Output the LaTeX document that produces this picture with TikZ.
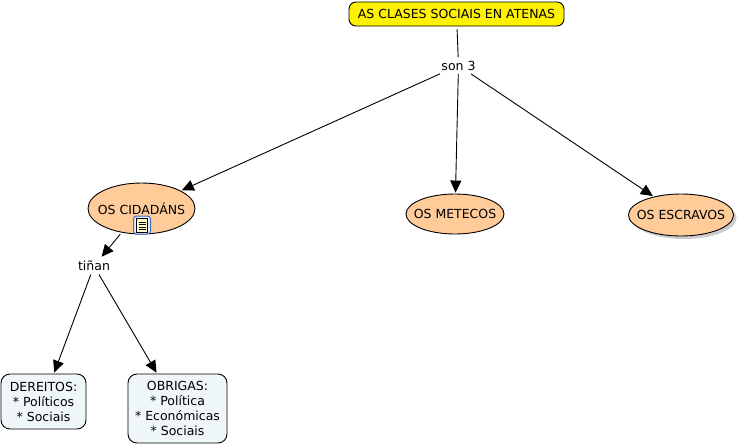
\documentclass[tikz,border=0pt]{standalone}
\usepackage{fontspec}
\setmainfont{DejaVu Sans}
\usetikzlibrary{arrows.meta,shapes.geometric,shadows}
\definecolor{peach}{RGB}{255,204,153}
\definecolor{paleblue}{RGB}{240,247,250}
\definecolor{iconblue}{RGB}{60,110,190}
\begin{document}
\begin{tikzpicture}[x=1pt,y=-1pt,line width=0.9pt,font=\fontsize{12.5}{15}\selectfont]
        \tikzstyle{title}=[rectangle,rounded corners=7pt,draw=black,fill=yellow,minimum width=215pt,minimum height=24pt,inner sep=0pt]
        \tikzstyle{class}=[ellipse,draw=black,fill=peach,inner ysep=0pt,inner xsep=-9pt]
        \tikzstyle{shadowed}=[drop shadow={shadow xshift=3pt,shadow yshift=-3pt,fill=black!40}]
        \tikzstyle{note}=[rectangle,rounded corners=9pt,draw=black,fill=paleblue,align=center,inner sep=0pt]
        \tikzstyle{phrase}=[inner sep=0pt,fill=white,minimum height=16pt]
        \tikzstyle{edge}=[draw,-{Triangle[length=12pt,width=11pt]},shorten >=1pt]
        \tikzstyle{plain}=[draw,shorten <=3pt,shorten >=0pt]
        \useasboundingbox (0,0) rectangle (740,445);
        \node [title] (clases) at (456.5,14) {AS CLASES SOCIAIS EN ATENAS};
        \node [phrase,minimum width=36pt] (son) at (458.5,65.5) {son 3};
        \node [class,minimum width=107pt,minimum height=51pt] (cidadans) at (141.5,208.5) {OS CIDADÁNS};
        \node [class,minimum width=98pt,minimum height=40pt] (metecos) at (455,214) {OS METECOS};
        \node [class,shadowed,minimum width=105pt,minimum height=42pt] (escravos) at (681,215) {OS ESCRAVOS};
        \node [phrase,minimum width=34pt] (tinan) at (94,266) {tiñan};
        \node [note,minimum width=85pt,minimum height=55pt] (dereitos) at (43.5,401.5) {DEREITOS:\\* Políticos\\* Sociais};
        \node [note,minimum width=99pt,minimum height=69pt] (obrigas) at (177.5,408.5) {OBRIGAS:\\* Política\\* Económicas\\* Sociais};
        \path[plain] (clases) -- (son);
        \path[edge] (son) -- (cidadans);
        \path[edge] (son) -- (metecos);
        \path[edge] (son) -- (escravos);
        \path[edge,shorten <=2pt] (cidadans) -- (tinan);
        \path[edge] (tinan) -- (dereitos);
        \path[edge] (tinan) -- (obrigas);
        % document icon
        \node [draw=iconblue,fill=blue!8,rounded corners=3pt,line width=1pt,minimum width=17pt,minimum height=18pt,inner sep=0pt] (icon) at (142,225) {};
        \node [draw=black,fill=yellow!20,line width=0.7pt,minimum width=11pt,minimum height=14pt,inner sep=0pt] (page) at (142,225) {};
        \foreach \y in {222,224.5,227,229.5}
          \draw[black,line width=0.6pt] (138.5,\y) -- (145.5,\y);
\end{tikzpicture}
\end{document}
